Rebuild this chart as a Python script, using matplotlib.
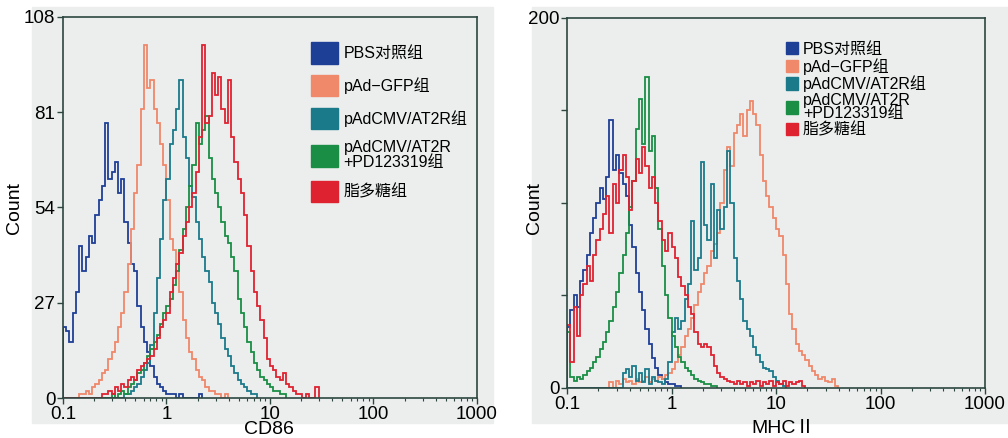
import matplotlib
matplotlib.use('Agg')
import matplotlib.pyplot as plt
from matplotlib.patches import Patch, Rectangle
from matplotlib.ticker import NullFormatter
import numpy as np

plt.rcParams['font.family'] = ['Liberation Sans', 'Noto Sans CJK SC']

# group names and colours
groups = ['PBS对照组', 'pAd\u2212GFP组', 'pAdCMV/AT2R组', 'pAdCMV/AT2R\n+PD123319组', '脂多糖组']
colors = ['#1e3f96', '#f0886a', '#1b7a8a', '#1a8e45', '#df2230']

# cell counts per channel (32 channels per decade, first channel at 0.1)
cd86_pbs = [20, 19, 16, 24, 30, 43, 36, 40, 46, 44, 52, 56, 60, 78, 62, 64, 67, 58, 62, 50,
            44, 38, 36, 26, 20, 16, 13, 9, 6, 4, 3, 2, 1, 1, 1, 0, 1, 0, 0, 0, 0, 0, 1]
cd86_gfp = [0] * 5 + [1, 1, 2, 1, 3, 4, 5, 7, 8, 11, 13, 16, 20, 24, 30, 38, 48, 58, 66, 82,
                     100, 88, 90, 82, 78, 72, 66, 56, 45, 42, 38, 30, 22, 17, 13, 11, 8, 6, 5, 3,
                     2, 2, 1, 1, 0, 1]
cd86_at2r = [0] * 19 + [1, 1, 2, 3, 4, 6, 8, 10, 15, 24, 34, 45, 56, 62, 72, 76, 82, 90, 74, 68,
                       60, 57, 50, 45, 40, 36, 33, 27, 24, 21, 17, 14, 12, 9, 7, 5, 4, 3, 2, 1, 1]
cd86_pd = [0] * 15 + [1, 0, 1, 2, 1, 3, 4, 5, 7, 8, 10, 12, 14, 16, 18, 21, 24, 26, 28, 32,
                     36, 42, 48, 54, 60, 66, 78, 72, 76, 80, 68, 62, 58, 54, 50, 46, 44, 40, 36, 28,
                     24, 20, 16, 13, 10, 8, 6, 5, 4, 3, 2, 2, 1, 1]
cd86_lps = [0] * 12 + [1, 1, 2, 1, 3, 2, 4, 3, 5, 6, 5, 8, 9, 10, 11, 12, 14, 17, 20, 22,
                      24, 30, 34, 38, 41, 46, 50, 54, 58, 64, 74, 100, 78, 80, 92, 86, 91, 82, 78, 90,
                      74, 67, 62, 58, 52, 43, 36, 30, 26, 22, 17, 11, 9, 8, 6, 5, 7, 4, 3, 2,
                      1, 1, 0, 1, 0, 0, 3]

mhc_pbs = [33, 42, 50, 44, 58, 64, 72, 84, 92, 100, 108, 102, 114, 145, 118, 126, 116, 110, 104, 88,
           76, 62, 52, 42, 32, 24, 16, 11, 7, 5, 3, 2, 2, 1, 1]
mhc_gfp = [0] * 13 + [3, 0, 4, 2, 5, 3, 4, 2, 5, 3, 4, 6, 3, 5, 4, 6, 5, 7, 8, 10,
                     14, 18, 22, 28, 32, 38, 45, 52, 56, 62, 66, 74, 78, 84, 100, 118, 130, 120, 138, 142,
                     148, 136, 150, 155, 148, 142, 126, 112, 104, 98, 92, 86, 82, 72, 56, 40, 32, 24, 20, 18,
                     15, 12, 9, 7, 5, 6, 4, 3, 5, 1]
mhc_at2r = [0] * 17 + [8, 10, 6, 12, 4, 8, 3, 10, 2, 6, 4, 3, 2, 5, 14, 30, 38, 32, 36, 48,
                      56, 90, 64, 70, 122, 88, 80, 110, 70, 96, 86, 98, 128, 100, 70, 58, 48, 36, 32, 28,
                      22, 18, 14, 11, 10, 9, 6, 4, 2, 1]
mhc_pd = [30, 6, 4, 6, 5, 7, 9, 11, 14, 17, 21, 25, 30, 36, 44, 52, 62, 72, 84, 98,
          112, 140, 156, 132, 168, 128, 136, 108, 86, 66, 50, 38, 28, 22, 17, 14, 11, 9, 7, 5,
          4, 3, 2, 2, 1, 1]
mhc_lps = [34, 14, 44, 28, 50, 56, 66, 58, 72, 80, 86, 94, 104, 84, 110, 100, 118, 126, 114, 96,
           112, 124, 116, 130, 120, 108, 114, 100, 90, 80, 74, 84, 76, 70, 60, 55, 50, 44, 40, 30,
           24, 22, 24, 22, 18, 12, 8, 6, 5, 4, 3, 2, 4, 2, 3, 1, 3, 2, 4, 1,
           3, 2, 4, 1, 3, 2, 4, 1, 3, 2, 3, 4, 1]

xticks = [0.1, 1, 10, 100, 1000]
xlabels = ['0.1', '1', '10', '100', '1000']

bg = '#eceeee'
fig = plt.figure(figsize=(10.08, 4.38), dpi=100)
fig.patches.append(Rectangle((32 / 1008, 15 / 438), 461 / 1008, 416 / 438,
                             transform=fig.transFigure, color=bg, zorder=-5))
fig.patches.append(Rectangle((532 / 1008, 15 / 438), 476 / 1008, 416 / 438,
                             transform=fig.transFigure, color=bg, zorder=-5))

ax1 = fig.add_axes([0.0625, 0.0913, 0.4107, 0.870])
ax2 = fig.add_axes([0.5625, 0.1142, 0.4147, 0.845])


def draw(ax, series):
    for counts, c in zip(series, colors):
        edges = 10.0 ** (-1 + np.arange(len(counts) + 1) / 32)
        ax.stairs(counts, edges, color=c, lw=1.3)
    ax.set_xscale('log')
    ax.set_xlim(0.1, 1000)
    ax.set_facecolor(bg)
    ax.set_xticks(xticks, xlabels)
    ax.xaxis.set_minor_formatter(NullFormatter())
    ax.tick_params(which='major', length=4, width=1, labelsize=13.5, pad=1.5, color='#2d4640')
    ax.tick_params(which='minor', length=2.5, width=0.8, color='#2d4640')
    for s in ax.spines.values():
        s.set_color('#2d4640')
        s.set_linewidth(1.2)


draw(ax1, [cd86_pbs, cd86_gfp, cd86_at2r, cd86_pd, cd86_lps])
ax1.set_ylim(0, 108)
ax1.set_yticks([0, 27, 54, 81, 108])

draw(ax2, [mhc_pbs, mhc_gfp, mhc_at2r, mhc_pd, mhc_lps])
ax2.set_ylim(0, 200)
ax2.set_yticks([0, 200])
ax2.set_yticks([50, 100, 150], minor=True)
ax2.tick_params(axis='y', which='minor', length=4, width=1)

handles = [Patch(facecolor=c, edgecolor=c) for c in colors]
leg1 = ax1.legend(handles, groups, loc='upper left', bbox_to_anchor=(0.599, 0.934),
                  frameon=False, fontsize=11.5, handlelength=1.7, handleheight=1.7,
                  handletextpad=0.35, labelspacing=0.7, borderpad=0, borderaxespad=0)
for t in leg1.get_texts():
    t.set_linespacing(0.95)
leg2 = ax2.legend(handles, groups, loc='upper left', bbox_to_anchor=(0.524, 0.935),
                  frameon=False, fontsize=11.5, handlelength=0.75, handleheight=0.8,
                  handletextpad=0.3, labelspacing=0.05, borderpad=0, borderaxespad=0)
for t in leg2.get_texts():
    t.set_linespacing(0.85)

fig.text(15 / 1008, 1 - 208 / 438, 'Count', rotation=90, ha='center', va='center', fontsize=14)
fig.text(535 / 1008, 1 - 208 / 438, 'Count', rotation=90, ha='center', va='center', fontsize=14)
fig.text(269 / 1008, 1 - 421 / 438, 'CD86', ha='center', va='top', fontsize=14)
fig.text(783 / 1008, 1 - 420 / 438, 'MHC\u2161', ha='center', va='top', fontsize=14)

fig.savefig('out.png', dpi=100, facecolor='white')
